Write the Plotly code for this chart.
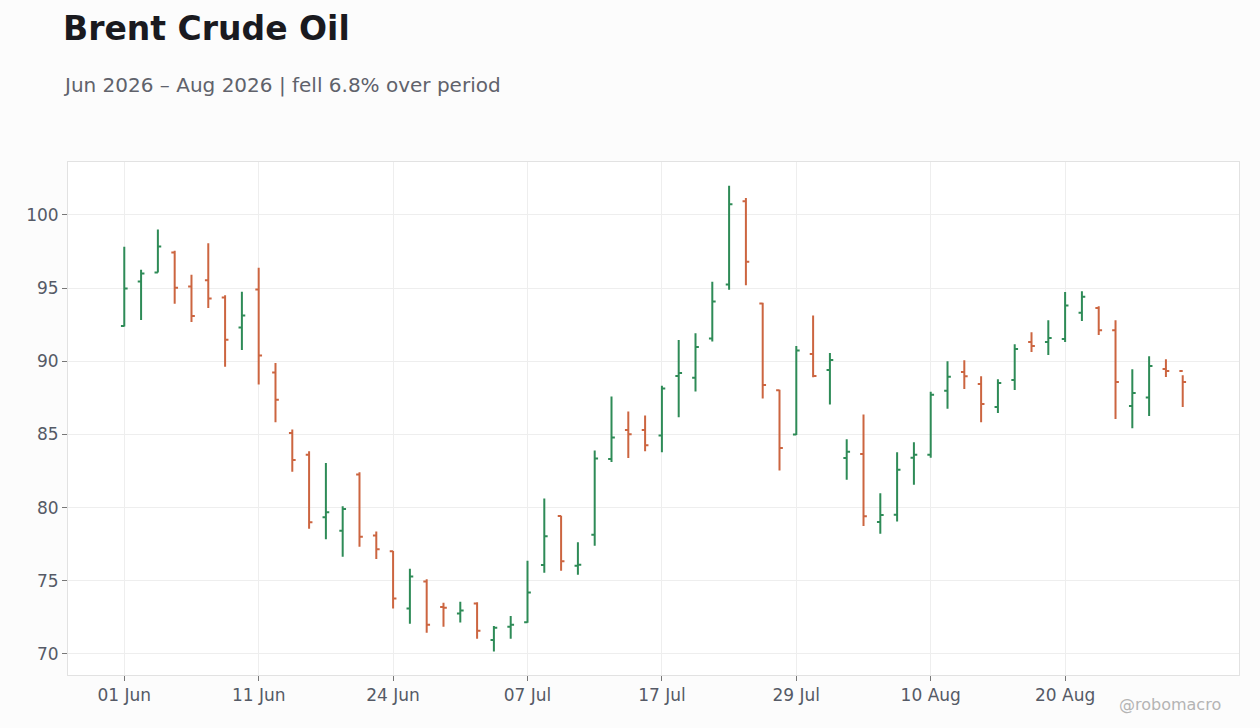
import pandas as pd
import plotly.graph_objects as go

# Trading days (US business days, Jun 19 and Jul 3 holidays)
dates = pd.bdate_range("2026-06-01", "2026-08-31", freq="C",
                       holidays=["2026-06-19", "2026-07-03"])
x_labels = [d.strftime("%Y-%m-%d") for d in dates]

open_ = [92.42, 95.46, 96.07, 97.44, 95.11, 95.53, 94.36, 92.31, 94.91, 89.23,
         85.10, 83.61, 79.34, 78.41, 82.27, 78.09, 77.01, 73.10, 74.95, 73.20,
         72.76, 73.44, 70.96, 71.86, 72.16, 76.07, 79.43, 76.02, 78.14, 83.32,
         85.30, 85.30, 84.93, 89.00, 88.88, 91.56, 95.25, 100.93, 93.95, 88.02,
         84.99, 90.50, 89.41, 83.39, 83.66, 79.02, 79.52, 83.41, 83.62, 87.98,
         89.27, 88.45, 86.87, 88.72, 91.32, 91.32, 91.53, 93.31, 93.65, 92.12,
         86.94, 87.53, 89.47, 89.34]
high = [97.83, 96.26, 99.00, 97.56, 95.91, 98.06, 94.52, 94.75, 96.39, 89.89,
        85.33, 83.86, 83.05, 80.09, 82.41, 78.36, 77.04, 75.82, 75.11, 73.49,
        73.56, 73.54, 71.91, 72.60, 76.37, 80.63, 79.45, 77.64, 83.91, 87.59,
        86.57, 86.30, 88.33, 91.46, 91.91, 95.43, 102.00, 101.16, 94.00, 88.05,
        91.05, 93.13, 90.57, 84.68, 86.36, 80.98, 83.78, 84.46, 87.92, 90.01,
        90.07, 88.97, 88.77, 91.16, 91.99, 92.81, 94.73, 94.79, 93.77, 92.81,
        89.45, 90.34, 90.14, 89.04]
low = [92.37, 92.83, 96.07, 93.93, 92.69, 93.65, 89.63, 90.78, 88.42, 85.83,
       82.45, 78.55, 77.84, 76.64, 77.32, 76.48, 73.10, 72.07, 71.45, 71.86,
       72.14, 71.04, 70.16, 71.04, 72.13, 75.54, 75.68, 75.41, 77.39, 83.11,
       83.39, 83.86, 83.78, 86.17, 87.93, 91.36, 94.89, 95.19, 87.45, 82.53,
       84.97, 88.91, 87.05, 81.91, 78.75, 78.21, 79.05, 81.56, 83.41, 86.75,
       88.10, 85.84, 86.46, 88.04, 90.64, 90.43, 91.32, 92.76, 91.80, 86.05,
       85.43, 86.26, 88.93, 86.87]
close = [94.98, 96.00, 97.85, 95.02, 93.10, 94.29, 91.48, 93.13, 90.39, 87.37,
         83.25, 79.00, 79.68, 79.91, 78.00, 77.16, 73.79, 75.30, 72.00, 73.15,
         72.96, 71.59, 71.79, 72.00, 74.20, 78.05, 76.34, 76.09, 83.36, 84.80,
         85.02, 84.27, 88.14, 89.20, 90.98, 94.09, 100.73, 96.81, 88.38, 84.08,
         90.73, 89.00, 90.09, 83.82, 79.41, 79.50, 82.58, 83.62, 87.71, 88.95,
         88.97, 87.08, 88.52, 90.84, 91.05, 91.60, 93.81, 94.41, 92.12, 88.58,
         87.83, 89.68, 89.34, 88.58]

tick_idx = list(range(0, len(x_labels), 8))
tick_vals = [x_labels[i] for i in tick_idx]
tick_text = [dates[i].strftime("%d %b") for i in tick_idx]
y_ticks = [70, 75, 80, 85, 90, 95, 100]

GREEN = "#2e8b57"
RED = "#cc6540"
FONT = "DejaVu Sans"

fig = go.Figure(go.Ohlc(
    x=x_labels, open=open_, high=high, low=low, close=close,
    increasing=dict(line=dict(color=GREEN, width=2)),
    decreasing=dict(line=dict(color=RED, width=2)),
    tickwidth=0.2, showlegend=False,
))

fig.update_layout(
    width=1260, height=728,
    margin=dict(l=68, r=21, t=162, b=53),
    paper_bgcolor="#fcfcfc", plot_bgcolor="#ffffff",
    font=dict(family=FONT, color="#555a66", size=17),
    xaxis=dict(type="category", range=[-3.35, len(x_labels) - 1 + 3.35],
               tickvals=tick_vals, ticktext=tick_text,
               showgrid=True, gridcolor="#eeeeee", gridwidth=1,
               showline=True, linecolor="#e2e2e2", linewidth=1, mirror=True,
               ticks="outside", ticklen=5, tickcolor="#777777",
               rangeslider=dict(visible=False), zeroline=False),
    yaxis=dict(range=[68.56, 103.62], tickvals=y_ticks,
               showgrid=True, gridcolor="#eeeeee", gridwidth=1,
               showline=True, linecolor="#e2e2e2", linewidth=1, mirror=True,
               ticks="outside", ticklen=5, tickcolor="#777777", zeroline=False),
    annotations=[
        dict(text="<b>Brent Crude Oil</b>", xref="paper", yref="paper",
             x=-7 / 1171, y=(675 - 29) / 513, xanchor="left", yanchor="middle",
             showarrow=False, font=dict(size=33, color="#1a1a1f", family=FONT)),
        dict(text="Jun 2026 – Aug 2026 | fell 6.8% over period",
             xref="paper", yref="paper",
             x=-7 / 1171, y=(675 - 85) / 513, xanchor="left", yanchor="middle",
             showarrow=False, font=dict(size=20, color="#60626b", family=FONT)),
        dict(text="@robomacro", xref="paper", yref="paper",
             x=(1223 - 68) / 1171, y=-(705 - 675) / 513, xanchor="right",
             yanchor="middle", showarrow=False,
             font=dict(size=16, color="#b4b4b4", family=FONT)),
    ],
)

fig.write_html("out.html", config={"displayModeBar": False},
               post_script="document.body.style.margin='0px';")
